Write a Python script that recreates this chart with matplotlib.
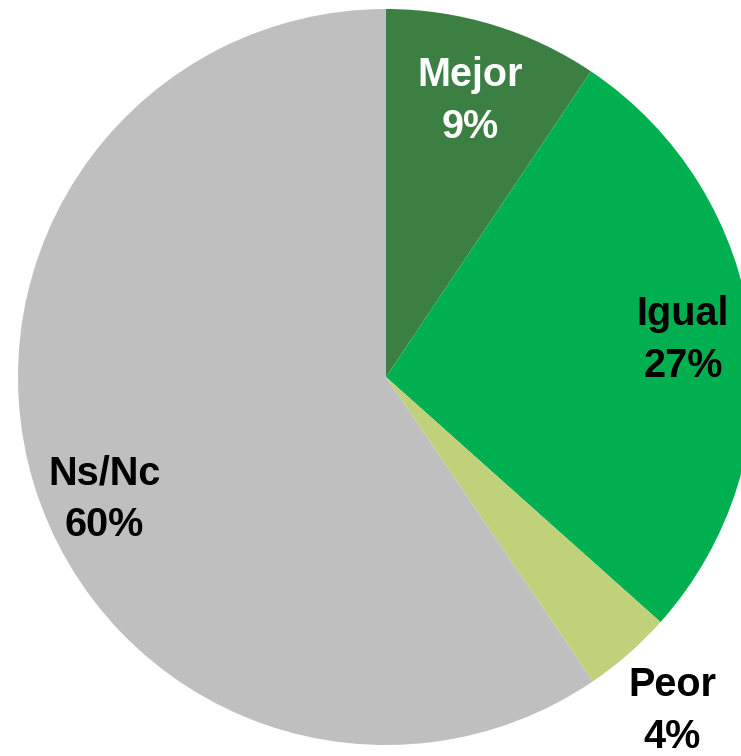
import matplotlib.pyplot as plt

# datos
categorias = ['Mejor', 'Igual', 'Peor', 'Ns/Nc']
valores = [9.4, 27.2, 3.9, 59.5]
colores = ['#3B7F42', '#00B050', '#BFD27A', '#BFBFBF']
color_texto = ['white', 'black', 'black', 'black']

# posicion de cada etiqueta (en unidades del radio)
pos_etiquetas = [(0.228, 0.75), (0.807, 0.10), (0.777, -0.908), (-0.766, -0.332)]

plt.rcParams['font.family'] = ['Liberation Sans', 'DejaVu Sans']

fig = plt.figure(figsize=(7.41, 7.56), dpi=100)
ax = fig.add_axes([0, 0, 1, 1])

ax.pie(valores, colors=colores, startangle=90, counterclock=False,
       wedgeprops=dict(linewidth=0))

for cat, val, (x, y), c in zip(categorias, valores, pos_etiquetas, color_texto):
    ax.text(x, y, f'{cat}\n{val:.0f}%', ha='center', va='center',
            fontsize=28.5, fontweight='bold', color=c, linespacing=1.45)

# el circulo queda cortado a la derecha y abajo
ax.set_xlim(-386 / 368, (741 - 386) / 368)
ax.set_ylim(-(756 - 377) / 368, 377 / 368)
ax.set_aspect('auto')
ax.axis('off')

fig.savefig('out.png', dpi=100)
